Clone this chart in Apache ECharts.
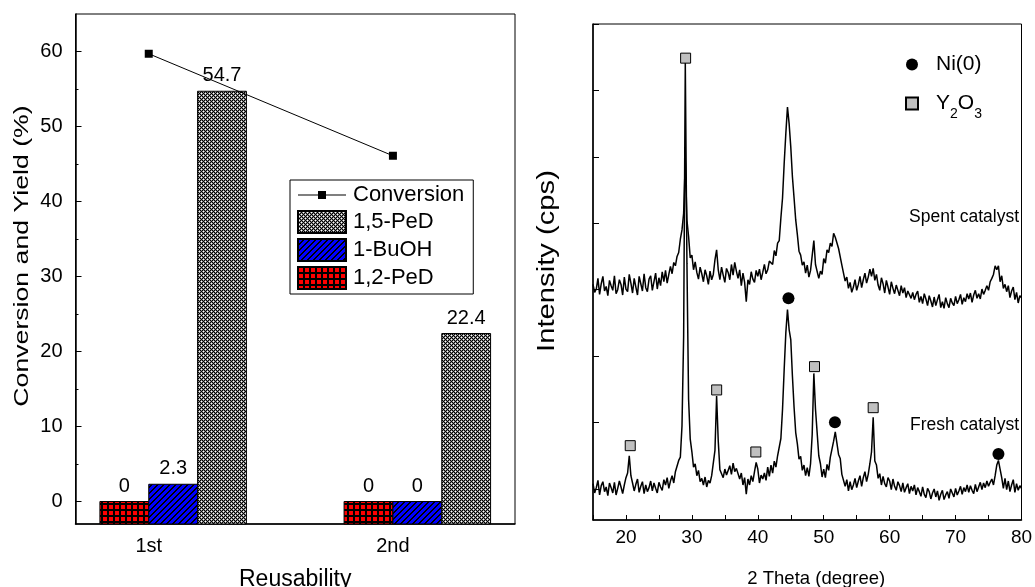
<!DOCTYPE html>
<html>
<head>
<meta charset="utf-8">
<script src="https://cdn.jsdelivr.net/npm/echarts@6/dist/echarts.min.js"></script>
<style>
  html, body { margin: 0; padding: 0; background: #fff; }
  #chart { width: 1035px; height: 587px; }
</style>
</head>
<body>
<div id="chart"></div>
<script>
// left panel: catalyst reuse
var categories = ['1st', '2nd'];
var conversion = [59.7, 46.1];
var ped15 = [54.7, 22.4];
var buoh = [2.3, 0];
var ped12 = [0, 0];
var leftYTicks = [0, 10, 20, 30, 40, 50, 60];
var leftYMinorTicks = [5, 15, 25, 35, 45, 55];

// right panel: XRD patterns, scan from 15 deg in 0.25 deg steps
var twoThetaStart = 15;
var twoThetaStep = 0.25;
var twoThetaLabels = [20, 30, 40, 50, 60, 70, 80];
var intensityTicks = [0, 1000, 2000, 3000, 4000, 5000, 6000, 7000];
var spent = [
  3080, 2960, 3010, 3170, 2930, 3090, 3200, 2980, 3050, 2910, 3140, 3060,
  2990, 3210, 2940, 3000, 3150, 3080, 2920, 3190, 3010, 2970, 3230, 3100,
  2950, 3170, 3040, 2920, 3200, 3090, 2980, 3240, 3030, 2970, 3160, 3210,
  2990, 3120, 3250, 3010, 3180, 3060, 3270, 3120, 3290, 3100, 3230, 3350,
  3240, 3410, 3360, 3500, 3560, 3760, 3900, 4150, 4950, 4050, 3800, 3480,
  3520, 3300, 3420, 3260, 3160, 3340, 3240, 3120, 3300, 3210, 3080, 3280,
  3150, 3230, 3450, 3600, 3300, 3150, 3340, 3220, 3110, 3320, 3260, 3150,
  3380, 3220, 3410, 3280, 3170, 3300, 3060, 3250, 3110, 2820, 3150, 3080,
  3270, 3160, 3110, 3290, 3200, 3310, 3150, 3260, 3380, 3240, 3300, 3430,
  3460, 3380, 3590, 3510, 3700, 3740, 4080, 4380, 4900, 5350, 5750, 5500,
  5150, 4700, 4380, 4050, 3830, 3580, 3520, 3370, 3420, 3250, 3370, 3190,
  3290, 3300, 3740, 3380, 3400, 3170, 3280, 3230, 3470, 3400, 3600, 3560,
  3700, 3650, 3850, 3790, 3810, 3620, 3610, 3370, 3360, 3130, 3190, 3020,
  3110, 2960, 3040, 3150, 2990, 3080, 3200, 3030, 3150, 3250, 3100, 3190,
  3310, 3200, 3320, 3140, 3230, 3070, 2990, 3180, 3090, 2950, 3140, 3040,
  2930, 3120, 3020, 2940, 3070, 2990, 2910, 3060, 2950, 3030, 2880, 2980,
  3010, 2870, 2960, 2850, 2930, 2980, 2810, 2900, 2790, 2940, 2860, 2760,
  2910, 2830, 2740, 2890, 2760, 2850, 2930, 2730, 2820, 2720, 2880, 2790,
  2730, 2870, 2800, 2760, 2900, 2790, 2850, 2930, 2780, 2880, 2820, 2940,
  2860, 2950, 2810, 2920, 2990, 2870, 2940, 2860, 3010, 2930, 2990, 3060,
  2990, 3120, 3170, 3230, 3360, 3300, 3360, 3120, 3210, 3020, 3080, 2970,
  3060, 2880, 2980, 3040, 2850, 2960, 2800, 2910, 2880
];
var fresh = [
  80, -60, 20, 130, -90, 50, 110, -40, 30, -100, 90, 20,
  -60, 100, -90, 10, 120, 30, -70, 60, 170, 240, 500, 200,
  90, -30, 70, 150, -50, 40, 110, -70, 60, -40, 20, 120,
  -30, 90, 10, -60, 100, 30, -20, 140, 60, 170, 10, 120,
  200, 90, 260, 240, 430, 480, 950, 2300, 6420, 3400, 1350, 750,
  560, 330, 380, 200, 280, 110, 160, 60, 180, 30, 130, 90,
  200, 170, 580, 1400, 720, 290, 320, 170, 300, 210, 280, 350,
  220, 390, 260, 310, 320, 150, 240, 60, 170, -80, 150, 60,
  200, 110, 260, 400, 300, 90, 210, 150, 240, 130, 330, 190,
  360, 240, 420, 330, 500, 500, 760, 1200, 1800, 2350, 2700, 2400,
  2250, 1700, 1230, 850, 680, 450, 490, 280, 360, 200, 320, 190,
  380, 820, 1740, 1200, 850, 500, 380, 180, 300, 170, 370, 280,
  480, 500, 720, 860, 690, 520, 460, 220, 230, 40, 140, -30,
  110, -10, 60, 160, 20, 120, 200, 40, 170, 260, 110, 220,
  380, 560, 1080, 420, 360, 160, 230, 60, 190, 80, 30, 170,
  120, -10, 150, 40, -20, 110, 50, -40, 90, -50, 20, 80,
  -70, 40, -30, 60, -90, 20, -40, -110, 30, -80, -130, 10,
  -40, -150, -60, 0, -120, -30, -170, -80, -20, -160, -90, -40,
  -140, 0, -60, -120, 10, -90, -30, 40, -80, 20, -40, 60,
  -50, 50, -20, -70, 70, -40, 30, 100, -10, 90, 20, 120,
  40, 100, 150, 60, 200, 360, 430, 300, 170, 10, 160, -10,
  120, -40, 60, 140, -50, 80, -20, 50, 10
];
var niPeaks = [[44.65, 2872], [51.7, 1004], [76.5, 527]];
var y2o3Peaks = [[29.05, 6486], [20.65, 652], [33.76, 1491], [39.7, 557], [48.6, 1842], [57.5, 1224]];

var FONT = '"Liberation Sans", Arial, sans-serif';
var LEFT_YMIN = -3;
var BAR_W = 0.2;

function makePattern(size, draw) {
  var c = document.createElement('canvas');
  c.width = size; c.height = size;
  draw(c.getContext('2d'));
  return { image: c, repeat: 'repeat' };
}
var dotsPattern = makePattern(4, function (ctx) {
  ctx.fillStyle = '#000'; ctx.fillRect(0, 0, 4, 4);
  ctx.fillStyle = '#888';
  [[0, 1], [2, 1], [1, 0], [1, 2], [2, 3], [0, 3], [3, 2], [3, 0]].forEach(function (p) { ctx.fillRect(p[0], p[1], 1, 1); });
  ctx.fillStyle = '#fff'; ctx.fillRect(1, 1, 1, 1); ctx.fillRect(3, 3, 1, 1);
});
var hatchPattern = makePattern(6, function (ctx) {
  ctx.fillStyle = '#0000ff'; ctx.fillRect(0, 0, 6, 6);
  ctx.fillStyle = '#000';
  for (var i = 0; i < 6; i++) {
    ctx.fillRect(i, 5 - i, 1, 1);
    ctx.fillRect((i + 1) % 6, 5 - i, 1, 1);
  }
});
var gridPattern = makePattern(6, function (ctx) {
  ctx.fillStyle = '#000'; ctx.fillRect(0, 0, 6, 6);
  ctx.fillStyle = '#ff0000'; ctx.fillRect(1, 1, 4, 4);
});

function pairs(vals) {
  return vals.map(function (v, i) { return [i + 1, v]; });
}
function scan(vals) {
  return vals.map(function (v, i) { return [twoThetaStart + i * twoThetaStep, v]; });
}

// bars hang from the bottom of the axis, shifted by whole bar widths from the category tick
function barSeries(name, vals, pattern, offset) {
  return {
    name: name,
    type: 'custom',
    xAxisIndex: 0,
    yAxisIndex: 0,
    itemStyle: { color: pattern, borderColor: '#000', borderWidth: 1 },
    encode: { x: 0, y: 1 },
    data: pairs(vals),
    renderItem: function (params, api) {
      var x = api.value(0), v = api.value(1);
      var w = api.size([BAR_W, 0])[0];
      var base = api.coord([x, LEFT_YMIN]);
      var top = api.coord([x, v]);
      return {
        type: 'rect',
        shape: { x: base[0] + offset * w, y: top[1], width: w, height: base[1] - top[1] },
        style: { fill: pattern, stroke: '#000', lineWidth: 1 },
        textContent: { style: { text: String(v), fontSize: 20, fontFamily: FONT, fill: '#000' } },
        textConfig: { position: 'top', distance: 5 }
      };
    }
  };
}

// vertical axis titles, drawn a bit stretched along their length like the original figure
function yTitle(text, cx, cy, size) {
  return {
    type: 'text', x: cx, y: cy, rotation: Math.PI / 2, scaleX: 1.27,
    style: { text: text, fontSize: size, fontFamily: FONT, fill: '#000', align: 'center', verticalAlign: 'middle' }
  };
}

var axisLineStyle = { color: '#000', width: 1.5 };

var chart = echarts.init(document.getElementById('chart'));
chart.setOption({
  backgroundColor: '#fff',
  animation: false,
  grid: [
    { left: 75.5, top: 14, right: 520, bottom: 63, outerBoundsMode: 'none', containLabel: false,
      show: true, borderColor: '#000', borderWidth: 1 },
    { left: 593, top: 24, right: 13.5, bottom: 67, outerBoundsMode: 'none', containLabel: false,
      show: true, borderColor: '#000', borderWidth: 1 }
  ],
  xAxis: [
    {
      gridIndex: 0, type: 'value', min: 0.7, max: 2.5,
      axisLine: { onZero: false, lineStyle: axisLineStyle },
      axisTick: { customValues: [1, 2], inside: true, length: 5, lineStyle: { color: '#000' } },
      axisLabel: {
        customValues: [1, 2], margin: 12, fontSize: 20, fontFamily: FONT, color: '#000',
        formatter: function (v) { return categories[Math.round(v) - 1]; }
      },
      splitLine: { show: false },
      name: 'Reusability', nameLocation: 'middle', nameGap: 44,
      nameTextStyle: { fontSize: 23, fontFamily: FONT, color: '#000' }
    },
    {
      gridIndex: 1, type: 'value', min: 15, max: 80, interval: 5,
      axisLine: { onZero: false, lineStyle: axisLineStyle },
      axisTick: { inside: true, length: 5, lineStyle: { color: '#000' } },
      axisLabel: { customValues: twoThetaLabels, margin: 8, fontSize: 19, fontFamily: FONT, color: '#000' },
      splitLine: { show: false },
      name: '2 Theta (degree)', nameLocation: 'middle', nameGap: 49,
      nameTextStyle: { fontSize: 18.5, fontFamily: FONT, color: '#000', padding: [0, 0, 0, 18] }
    }
  ],
  yAxis: [
    {
      gridIndex: 0, type: 'value', min: LEFT_YMIN, max: 65, position: 'left',
      axisLine: { show: true, onZero: false, lineStyle: axisLineStyle },
      axisTick: { customValues: leftYTicks, inside: true, length: 6, lineStyle: { color: '#000' } },
      axisLabel: { customValues: leftYTicks, margin: 13, fontSize: 20, fontFamily: FONT, color: '#000' },
      splitLine: { show: false }
    },
    {
      gridIndex: 0, type: 'value', min: LEFT_YMIN, max: 65, position: 'left', offset: 0,
      axisLine: { show: false },
      axisTick: { customValues: leftYMinorTicks, inside: true, length: 3, lineStyle: { color: '#000' } },
      axisLabel: { show: false },
      splitLine: { show: false }
    },
    {
      gridIndex: 1, type: 'value', min: -467, max: 7000,
      axisLine: { show: true, onZero: false, lineStyle: axisLineStyle },
      axisTick: { customValues: intensityTicks, inside: true, length: 6, lineStyle: { color: '#000' } },
      axisLabel: { show: false },
      splitLine: { show: false }
    }
  ],
  legend: [
    {
      orient: 'vertical', left: 290, top: 180,
      itemWidth: 48, itemHeight: 22, itemGap: 4,
      padding: [4, 9, 4, 7],
      borderColor: '#000', borderWidth: 1,
      selectedMode: false,
      textStyle: { fontSize: 22, fontFamily: FONT, color: '#000', padding: [0, 0, 0, 2] },
      data: [
        { name: 'Conversion', icon: 'path://M0,10.5H20V7H28V10.5H48V11.5H28V15H20V11.5H0Z' },
        { name: '1,5-PeD', icon: 'rect' },
        { name: '1-BuOH', icon: 'rect' },
        { name: '1,2-PeD', icon: 'rect' }
      ]
    },
    {
      orient: 'vertical', left: 900, top: 49,
      itemWidth: 12, itemHeight: 12, itemGap: 18,
      padding: 5,
      selectedMode: false,
      textStyle: {
        fontSize: 21, fontFamily: FONT, color: '#000', padding: [0, 0, 0, 13],
        rich: {
          n: { fontSize: 21, fontFamily: FONT, color: '#000' },
          s: { fontSize: 14, fontFamily: FONT, color: '#000', padding: [22, 0, 0, 0] }
        }
      },
      formatter: function (name) {
        return name === 'Y2O3' ? '{n|Y}{s|2}{n|O}{s|3}' : '{n|' + name + '}';
      },
      data: ['Ni(0)', 'Y2O3']
    }
  ],
  graphic: [
    yTitle('Conversion and Yield (%)', 22, 256, 21),
    yTitle('Intensity (cps)', 548, 261, 23),
    { type: 'text', right: 16, top: 208, style: { text: 'Spent catalyst', fontSize: 17.5, fontFamily: FONT, fill: '#000' } },
    { type: 'text', right: 16, top: 416, style: { text: 'Fresh catalyst', fontSize: 17.5, fontFamily: FONT, fill: '#000' } }
  ],
  series: [
    {
      name: 'Conversion', type: 'line', xAxisIndex: 0, yAxisIndex: 0, z: 5,
      data: pairs(conversion),
      symbol: 'rect', symbolSize: 8,
      itemStyle: { color: '#000' },
      lineStyle: { color: '#000', width: 1 }
    },
    barSeries('1,2-PeD', ped12, gridPattern, -1),
    barSeries('1-BuOH', buoh, hatchPattern, 0),
    barSeries('1,5-PeD', ped15, dotsPattern, 1),
    {
      name: 'Spent catalyst', type: 'line', xAxisIndex: 1, yAxisIndex: 2,
      data: scan(spent), showSymbol: false, silent: true,
      lineStyle: { color: '#000', width: 1.5 }
    },
    {
      name: 'Fresh catalyst', type: 'line', xAxisIndex: 1, yAxisIndex: 2,
      data: scan(fresh), showSymbol: false, silent: true,
      lineStyle: { color: '#000', width: 1.5 }
    },
    {
      name: 'Ni(0)', type: 'scatter', xAxisIndex: 1, yAxisIndex: 2, z: 5,
      data: niPeaks, symbol: 'circle', symbolSize: 12,
      itemStyle: { color: '#000', opacity: 1 }
    },
    {
      name: 'Y2O3', type: 'scatter', xAxisIndex: 1, yAxisIndex: 2, z: 5,
      data: y2o3Peaks, symbol: 'rect', symbolSize: 10,
      itemStyle: { color: '#c0c0c0', borderColor: '#000', borderWidth: 1, opacity: 1 }
    }
  ]
});
</script>
</body>
</html>
